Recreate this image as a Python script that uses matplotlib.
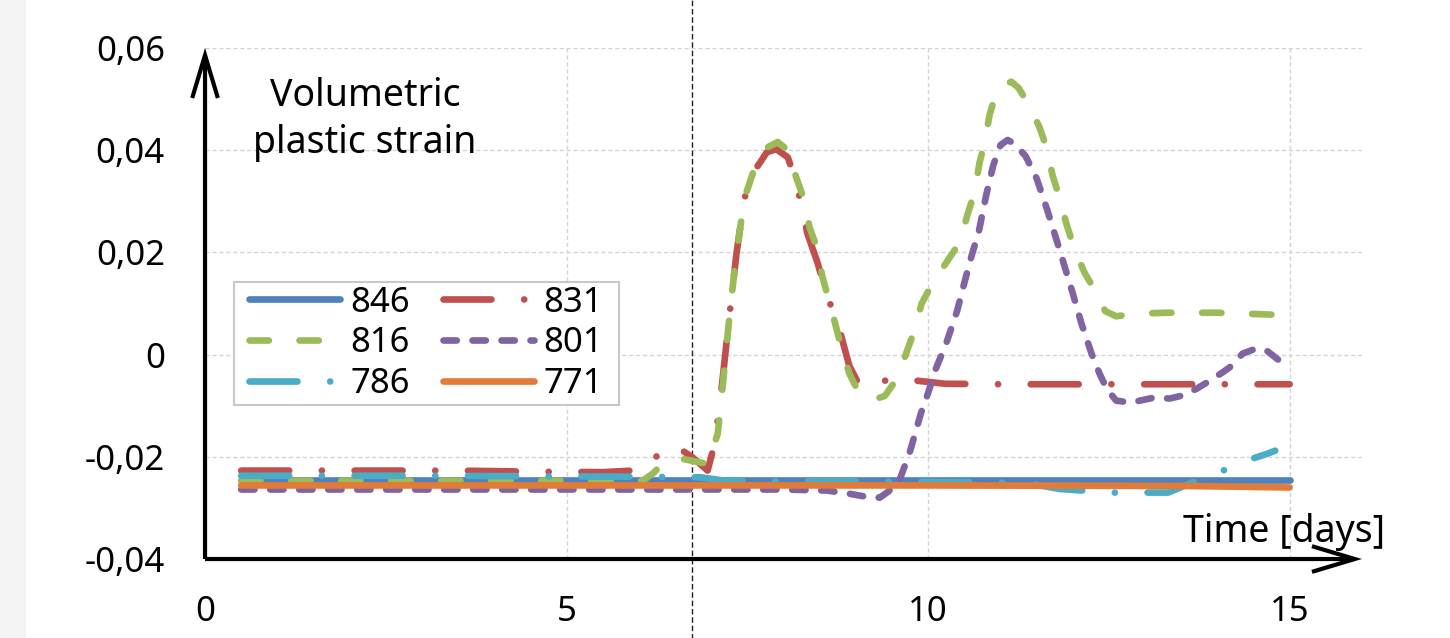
import numpy as np
import matplotlib.pyplot as plt
from matplotlib.patches import Rectangle

plt.rcParams['font.family'] = ['Noto Sans', 'DejaVu Sans']

# series (time in days, volumetric plastic strain)
t_846 = [0.5, 5.0, 10.0, 15.0]
v_846 = [-0.0245, -0.0245, -0.0245, -0.0245]

t_831 = [0.5, 2.0, 3.5, 4.5, 5.5, 6.05, 6.2, 6.33, 6.5, 6.75, 6.95, 7.05, 7.14, 7.26,
         7.35, 7.46, 7.6, 7.77, 7.9, 8.06, 8.18, 8.33, 8.47, 8.6, 8.74, 8.91, 9.02,
         9.12, 9.3, 9.51, 9.84, 10.23, 11.0, 12.0, 13.0, 14.0, 15.0]
v_831 = [-0.0227, -0.0227, -0.0227, -0.0229, -0.023, -0.0226, -0.0205, -0.0188,
         -0.0178, -0.0202, -0.0227, -0.0173, -0.0071, 0.0086, 0.0198, 0.0306, 0.036,
         0.0396, 0.0402, 0.0386, 0.0335, 0.0237, 0.018, 0.0115, 0.0067, -0.0022,
         -0.0052, -0.0065, -0.0055, -0.0047, -0.0051, -0.0057, -0.0058, -0.0058,
         -0.0058, -0.0058, -0.0058]

t_816 = [0.5, 3.0, 5.5, 6.05, 6.2, 6.32, 6.6, 6.95, 7.09, 7.15, 7.26, 7.35, 7.46, 7.6,
         7.77, 7.92, 8.06, 8.18, 8.29, 8.36, 8.46, 8.54, 8.67, 8.8, 8.91, 9.05, 9.25,
         9.4, 9.58, 9.7, 9.81, 9.91, 10.06, 10.27, 10.44, 10.55, 10.64, 10.71, 10.78,
         10.85, 10.94, 11.05, 11.15, 11.25, 11.38, 11.54, 11.65, 11.72, 11.82, 11.91,
         12.02, 12.16, 12.33, 12.45, 12.6, 12.88, 13.3, 14.0, 14.6, 15.0]
v_816 = [-0.0247, -0.0247, -0.0247, -0.0247, -0.0232, -0.0214, -0.0204, -0.0214,
         -0.0155, -0.0075, 0.0086, 0.0198, 0.0306, 0.0365, 0.0405, 0.0416, 0.0400,
         0.0345, 0.0302, 0.0249, 0.021, 0.0151, 0.0085, 0.0014, -0.0037, -0.0077,
         -0.0088, -0.0081, -0.0045, 0.0004, 0.0047, 0.010, 0.0139, 0.0184, 0.022,
         0.0277, 0.0316, 0.0375, 0.0414, 0.0469, 0.0512, 0.0528, 0.0534, 0.0522,
         0.0492, 0.0445, 0.040, 0.0351, 0.0306, 0.0257, 0.0208, 0.0161, 0.012, 0.0085,
         0.0075, 0.008, 0.0082, 0.0082, 0.0079, 0.0077]

t_801 = [0.5, 3.0, 6.0, 8.0, 8.6, 8.9, 9.1, 9.33, 9.45, 9.6, 9.74, 9.9, 10.0, 10.1,
         10.25, 10.4, 10.5, 10.6, 10.7, 10.8, 10.9, 11.0, 11.1, 11.2, 11.35, 11.5,
         11.65, 11.82, 12.0, 12.12, 12.26, 12.37, 12.47, 12.6, 12.8, 13.13, 13.34,
         13.52, 13.71, 13.85, 14.07, 14.17, 14.35, 14.54, 14.68, 14.86, 15.0]
v_801 = [-0.0264, -0.0264, -0.0264, -0.0264, -0.0266, -0.0272, -0.0277, -0.028,
         -0.0268, -0.0247, -0.0194, -0.0115, -0.0075, -0.003, 0.0022, 0.0085, 0.014,
         0.0193, 0.024, 0.031, 0.037, 0.041, 0.042, 0.0412, 0.0388, 0.0345, 0.0282,
         0.0204, 0.012, 0.0061, 0.0002, -0.0037, -0.0067, -0.009, -0.0094, -0.0084,
         -0.0086, -0.008, -0.0067, -0.0055, -0.0035, -0.0025, 0.0002, 0.0012, 0.0008,
         -0.0012, -0.0027]

t_786 = [0.5, 3.0, 6.0, 6.85, 7.2, 9.0, 11.0, 11.5, 11.82, 12.55, 12.94, 13.32, 13.71,
         14.0, 14.35, 14.69, 14.8]
v_786 = [-0.0237, -0.0237, -0.0239, -0.024, -0.0247, -0.0248, -0.025, -0.0255,
         -0.0263, -0.027, -0.027, -0.027, -0.0247, -0.0232, -0.021, -0.0194, -0.0188]

t_771 = [0.5, 5.0, 10.0, 13.5, 15.0]
v_771 = [-0.0256, -0.0256, -0.0256, -0.0257, -0.026]

x_ticks = [0, 5, 10, 15]
y_ticks = [-0.04, -0.02, 0.0, 0.02, 0.04, 0.06]
y_tick_labels = ['-0,04', '-0,02', '0', '0,02', '0,04', '0,06']
marker_day = 6.73

fig = plt.figure(figsize=(14.5, 6.38), dpi=100)
fig.patches.append(Rectangle((0, 0), 25 / 1450, 1, transform=fig.transFigure,
                             color='#f4f4f4', zorder=0))
ax = fig.add_axes([0.1414, 0.1238, 0.7979, 0.801])

lw = 4.8
long_dash_dot = (0, (7.2, 4.9, 0.01, 4.9))
styles = [
    ('846', t_846, v_846, '#4f81bd', '-'),
    ('831', t_831, v_831, '#c0504d', long_dash_dot),
    ('816', t_816, v_816, '#9bbb59', (0, (2.9, 4.6))),
    ('801', t_801, v_801, '#8064a2', (0, (2.0, 2.35))),
    ('786', t_786, v_786, '#4bacc6', long_dash_dot),
    ('771', t_771, v_771, '#e07b39', '-'),
]
lines = {}
for name, t, v, c, ls in styles:
    ln, = ax.plot(t, v, color=c, lw=lw, ls=ls, label=name,
                  dash_capstyle='round', solid_capstyle='round',
                  dash_joinstyle='round', solid_joinstyle='round')
    lines[name] = ln

ax.set_xlim(0, 16)
ax.set_ylim(-0.04, 0.06)
ax.set_xticks(x_ticks)
ax.set_xticklabels([str(x) for x in x_ticks])
ax.set_yticks(y_ticks)
ax.set_yticklabels(y_tick_labels)
ax.tick_params(axis='both', length=0, labelsize=25)
ax.tick_params(axis='y', pad=29)
ax.tick_params(axis='x', pad=26)

for s in ax.spines.values():
    s.set_visible(False)

ax.grid(True, color='#d4d4d4', lw=1.0, ls=(0, (3, 2)))
ax.set_axisbelow(True)
# no grid line on top of the x axis
ax.yaxis.get_gridlines()[0].set_visible(False)

ax.axvline(marker_day, ymin=-0.16, ymax=1.1, color='#222222', lw=1.0,
           ls=(0, (4, 2)), clip_on=False, zorder=1)

arrow = dict(arrowstyle='->,head_length=1.4,head_width=0.42', lw=3,
             color='black', shrinkA=0, shrinkB=0, mutation_scale=22,
             clip_on=False, joinstyle='miter', capstyle='butt')
ax.annotate('', xy=(0, 0.06), xytext=(0, -0.04), arrowprops=arrow,
            annotation_clip=False)
ax.annotate('', xy=(16, -0.04), xytext=(0, -0.04), arrowprops=arrow,
            annotation_clip=False)

ax.text(2.21, 0.046, 'Volumetric\nplastic strain', ha='center', va='center',
        fontsize=27, linespacing=1.3)
ax.text(14.92, -0.0367, 'Time [days]', ha='center', va='baseline',
        fontsize=27, clip_on=False)

# legend filled row by row: 846 831 / 816 801 / 786 771
order = ['846', '816', '786', '831', '801', '771']
leg = ax.legend([lines[k] for k in order], order, ncol=2, loc='upper left',
                bbox_to_anchor=(0.035, 0.542), borderaxespad=0, fontsize=25,
                frameon=False, handlelength=2.62, handletextpad=0.29,
                columnspacing=0.95, labelspacing=0.2, borderpad=0.1)

# frame with more room left/right than top/bottom, like the original
fig.canvas.draw()
ext = leg.get_window_extent().transformed(fig.transFigure.inverted())
padx = 12 / 1450
frame = Rectangle((ext.x0 - padx, ext.y0), ext.width + 2 * padx, ext.height,
                  transform=fig.transFigure, facecolor='white',
                  edgecolor='#c8c8c8', lw=1.5, zorder=4)
fig.patches.append(frame)
leg.set_zorder(5)
leg.remove()
fig.legends.append(leg)
leg.set_figure(fig)

fig.savefig('out.png', dpi=100)
